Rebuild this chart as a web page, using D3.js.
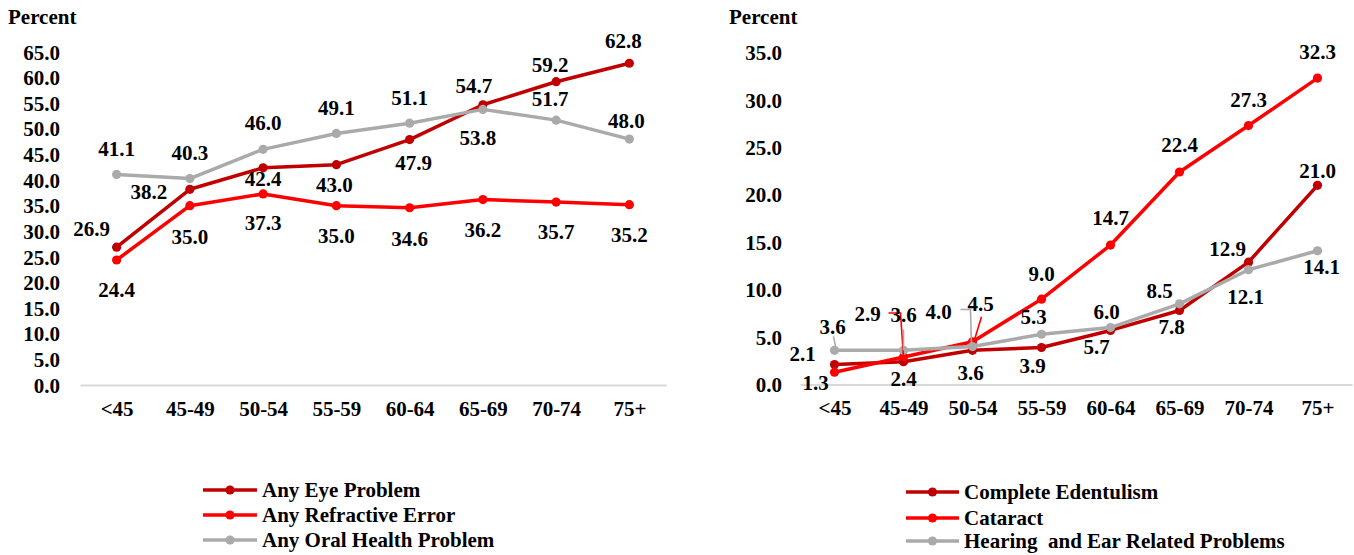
<!DOCTYPE html>
<html>
<head>
<meta charset="utf-8">
<script src="https://cdn.jsdelivr.net/npm/d3@7/dist/d3.min.js"></script>
<style>
  html, body { margin: 0; padding: 0; background: #fff; }
  svg text { font-family: "Liberation Serif", "Times New Roman", serif; font-weight: bold; fill: #000; }
</style>
</head>
<body>
<svg id="chart" width="1354" height="555"></svg>
<script>
// Age groups shared by both panels
const ageGroups = ["<45", "45-49", "50-54", "55-59", "60-64", "65-69", "70-74", "75+"];

// Left panel: eye and oral health problems (%)
const anyEyeProblem      = [26.9, 38.2, 42.4, 43.0, 47.9, 54.7, 59.2, 62.8];
const anyRefractiveError = [24.4, 35.0, 37.3, 35.0, 34.6, 36.2, 35.7, 35.2];
const anyOralHealth      = [41.1, 40.3, 46.0, 49.1, 51.1, 53.8, 51.7, 48.0];

// Right panel: specific conditions (%)
const completeEdentulism = [2.1, 2.4, 3.6, 3.9, 5.7, 7.8, 12.9, 21.0];
const cataract           = [1.3, 2.9, 4.5, 9.0, 14.7, 22.4, 27.3, 32.3];
const hearingEar         = [3.6, 3.6, 4.0, 5.3, 6.0, 8.5, 12.1, 14.1];

// Axis ticks
const leftTicks  = d3.range(0, 65.01, 5);
const rightTicks = d3.range(0, 35.01, 5);

const C_DARK = "#C00000", C_RED = "#FF0000", C_GRAY = "#AAAAAA";
const FS = "21px";

const svg = d3.select("#chart");

function drawPanel(cfg) {
  const x = d3.scalePoint().domain(ageGroups).range(cfg.xRange).padding(0.5);
  const y = d3.scaleLinear().domain(cfg.yDomain).range(cfg.yRange);
  const g = svg.append("g");

  // y tick labels (no axis line)
  const ya = g.append("g")
    .attr("transform", `translate(${cfg.xRange[0]},0)`)
    .call(d3.axisLeft(y).tickValues(cfg.ticks).tickFormat(d3.format(".1f")).tickSize(0).tickPadding(cfg.yPad));
  ya.select(".domain").remove();
  ya.selectAll("text").style("font-size", FS).attr("dy", "0.34em");

  // x axis baseline and category labels
  const xa = g.append("g")
    .attr("transform", `translate(0,${cfg.yRange[0]})`)
    .call(d3.axisBottom(x).tickSize(0).tickSizeOuter(0).tickPadding(16));
  xa.select(".domain").attr("stroke", "#D9D9D9").attr("stroke-width", 2);
  xa.selectAll("text").style("font-size", FS);

  // "Percent" axis title
  g.append("text").attr("x", cfg.titleX).attr("y", 24).style("font-size", FS).text("Percent");

  const line = d3.line().x((d, i) => x(ageGroups[i])).y(d => y(d));

  cfg.series.forEach(s => {
    g.append("path").datum(s.values)
      .attr("fill", "none").attr("stroke", s.color).attr("stroke-width", 3.5)
      .attr("stroke-linejoin", "round").attr("d", line);
    g.selectAll(null).data(s.values).enter().append("circle")
      .attr("cx", (d, i) => x(ageGroups[i])).attr("cy", d => y(d))
      .attr("r", 4.6).attr("fill", s.color);
  });

  // leader lines for crowded labels
  cfg.series.forEach(s => {
    (s.leaders || []).forEach(ld => {
      const px = x(ageGroups[ld.i]), py = y(s.values[ld.i]);
      g.append("path")
        .attr("d", d3.line()(ld.pts.map(p => [px + p[0], py + p[1]])))
        .attr("fill", "none").attr("stroke", s.color).attr("stroke-width", 1.6);
    });
  });

  // value labels
  cfg.series.forEach(s => {
    g.selectAll(null).data(s.values).enter().append("text")
      .attr("x", (d, i) => x(ageGroups[i]) + s.offsets[i][0])
      .attr("y", (d, i) => y(d) + s.offsets[i][1])
      .attr("dy", "0.35em").attr("text-anchor", "middle")
      .style("font-size", FS)
      .text(d => d3.format(".1f")(d));
  });

  // legend
  cfg.series.forEach((s, k) => {
    const ly = cfg.legend.y[k];
    g.append("line").attr("x1", cfg.legend.x0).attr("x2", cfg.legend.x1)
      .attr("y1", ly).attr("y2", ly).attr("stroke", s.color).attr("stroke-width", 3.5);
    g.append("circle").attr("cx", (cfg.legend.x0 + cfg.legend.x1) / 2).attr("cy", ly)
      .attr("r", 4.6).attr("fill", s.color);
    g.append("text").attr("x", cfg.legend.tx).attr("y", ly).attr("dy", "0.33em")
      .style("font-size", FS).style("white-space", "pre").text(s.name);
  });
}

drawPanel({
  xRange: [80, 666], yDomain: [0, 65], yRange: [385, 52], ticks: leftTicks, yPad: 20, titleX: 8,
  legend: { x0: 203, x1: 257, tx: 262, y: [490, 515, 540] },
  series: [
    { name: "Any Eye Problem", color: C_DARK, values: anyEyeProblem,
      offsets: [[-25, -19], [-41, 2], [0, 11], [-2, 20], [4, 23], [-9, -19], [-6, -17], [-6, -23]] },
    { name: "Any Refractive Error", color: C_RED, values: anyRefractiveError,
      offsets: [[0, 30], [0, 31], [0, 29], [0, 30], [0, 31], [0, 30], [0, 30], [0, 30]] },
    { name: "Any Oral Health Problem", color: C_GRAY, values: anyOralHealth,
      offsets: [[0, -26], [0, -26], [0, -27], [0, -26], [0, -26], [-5, 28], [-6, -21], [-3, -18]] }
  ]
});

drawPanel({
  xRange: [800, 1352], yDomain: [0, 35], yRange: [384.5, 52.5], ticks: rightTicks, yPad: 18, titleX: 729,
  legend: { x0: 906, x1: 959, tx: 964, y: [492, 518, 541] },
  series: [
    { name: "Complete Edentulism", color: C_DARK, values: completeEdentulism,
      offsets: [[-32, -11], [0, 17], [-2, 22], [-9, 18], [-14, 16], [-8, 16], [-21, -13], [0, -15]] },
    { name: "Cataract", color: C_RED, values: cataract,
      offsets: [[-19, 10], [-36, -43], [8, -38], [0, -25], [0, -27], [0, -27], [0, -26], [0, -26]],
      leaders: [
        { i: 1, pts: [[-15, -44], [-3, -44], [0, 0]] },
        { i: 2, pts: [[9, -25], [2, -2]] }
      ] },
    { name: "Hearing  and Ear Related Problems", color: C_GRAY, values: hearingEar,
      offsets: [[-2, -24], [0, -36], [-34, -35], [-8, -18], [-4, -16], [-20, -13], [-3, 27], [4, 16]],
      leaders: [
        { i: 0, pts: [[-1, -14], [1, -4]] },
        { i: 1, pts: [[0, -21], [0, 0]] },
        { i: 2, pts: [[-12, -37], [-2, -37], [-1, 0]] }
      ] }
  ]
});
</script>
</body>
</html>
